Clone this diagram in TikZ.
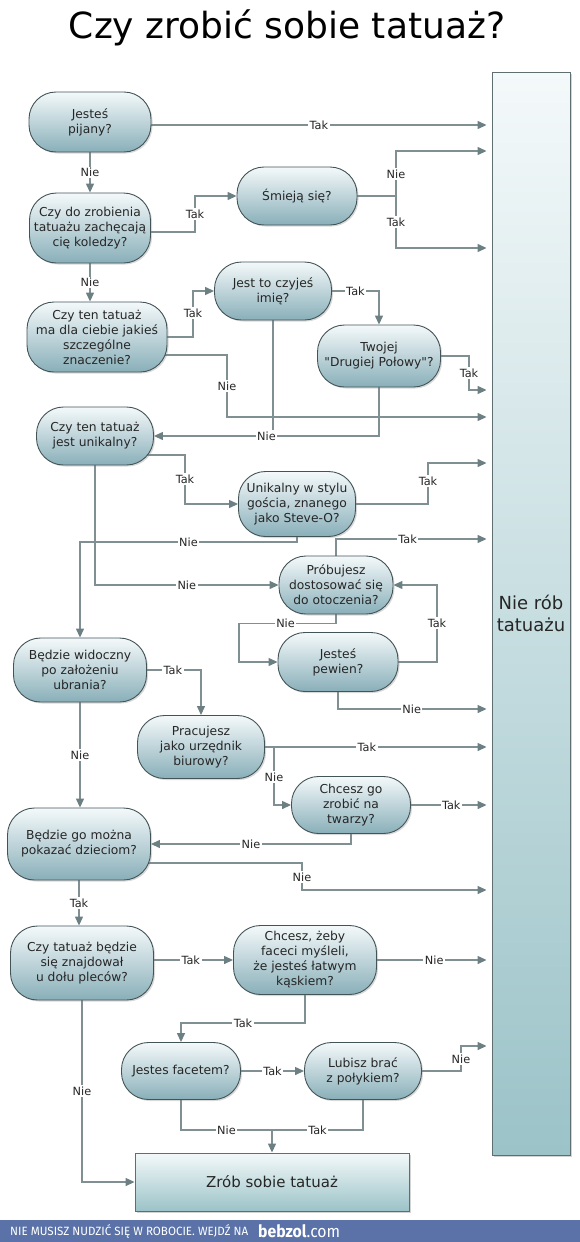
\documentclass[tikz,border=0pt]{standalone}
\usepackage{graphicx}
\usepackage{fontspec}
\setmainfont{DejaVu Sans}
\newfontfamily\footfont{Fira Sans}
\usetikzlibrary{arrows.meta, shadows}
\definecolor{qtop}{HTML}{F4F9FA}
\definecolor{qbot}{HTML}{89AFB9}
\definecolor{qedge}{HTML}{435457}
\definecolor{lineg}{HTML}{7F8F92}
\definecolor{tipg}{HTML}{6C7F83}
\definecolor{endbot}{HTML}{9BC3C8}
\definecolor{footblue}{HTML}{5A72A8}
\pgfdeclarelayer{background}
\pgfsetlayers{background,main}

\begin{document}
\begin{tikzpicture}[
    x=1pt, y=-1pt,
    every node/.style={align=center},
    block_q/.style={
        rectangle,
        draw=qedge,
        line width=0.9pt,
        top color=qtop,
        bottom color=qbot,
        rounded corners=27pt,
        inner sep=1pt,
        text=black!85,
        font=\fontsize{12.3}{15}\selectfont,
        drop shadow={shadow xshift=1.5pt, shadow yshift=-1.5pt, opacity=0.3}
    },
    block_end/.style={
        rectangle,
        draw=qedge!85,
        line width=0.9pt,
        top color=qtop,
        bottom color=endbot,
        text=black!85,
        drop shadow={shadow xshift=2pt, shadow yshift=-2pt, opacity=0.35}
    },
    plain_line/.style={draw=lineg, line width=1.3pt},
    arrow/.style={plain_line, -{Triangle[length=9pt, width=8pt, color=tipg]}},
    arrow_box/.style={arrow, shorten >=5pt},
    yn/.style={fill=white, inner sep=1.5pt, text=black!85, font=\fontsize{11.3}{13}\selectfont}
]
    \useasboundingbox (0,0) rectangle (580,1242);
    % 标题
    \node[anchor=base, font=\fontsize{36}{40}\selectfont] (title) at (287,38) {Czy zrobić sobie tatuaż?};

    % 判断节点
    \node[block_q, minimum width=122pt, minimum height=60pt] (drunk) at (90,122) {Jesteś\\pijany?};
    \node[block_q, minimum width=121pt, minimum height=70pt] (friends) at (90,228) {Czy do zrobienia\\tatuażu zachęcają\\cię koledzy?};
    \node[block_q, minimum width=120pt, minimum height=58pt] (laugh) at (297,196) {Śmieją się?};
    \node[block_q, minimum width=140pt, minimum height=70pt] (meaning) at (97,337) {Czy ten tatuaż\\ma dla ciebie jakieś\\szczególne\\znaczenie?};
    \node[block_q, minimum width=117pt, minimum height=58pt] (name) at (273,291) {Jest to czyjeś\\imię?};
    \node[block_q, minimum width=123pt, minimum height=62pt] (partner) at (379,356) {Twojej\\\textquotedbl Drugiej Połowy\textquotedbl?};
    \node[block_q, minimum width=117pt, minimum height=58pt] (unique) at (95,436) {Czy ten tatuaż\\jest unikalny?};
    \node[block_q, minimum width=117pt, minimum height=65pt] (steveo) at (297,504) {Unikalny w stylu\\gościa, znanego\\jako Steve-O?};
    \node[block_q, minimum width=114pt, minimum height=58pt] (fitin) at (336,585) {Próbujesz\\dostosować się\\do otoczenia?};
    \node[block_q, minimum width=120pt, minimum height=59pt] (sure) at (338,662) {Jesteś\\pewien?};
    \node[block_q, minimum width=133pt, minimum height=64pt] (visible) at (80,670) {Będzie widoczny\\po założeniu\\ubrania?};
    \node[block_q, minimum width=127pt, minimum height=63pt] (office) at (201,747) {Pracujesz\\jako urzędnik\\biurowy?};
    \node[block_q, minimum width=119pt, minimum height=57pt] (face) at (351,805) {Chcesz go\\zrobić na\\twarzy?};
    \node[block_q, minimum width=143pt, minimum height=72pt] (kids) at (79,844) {Będzie go można\\pokazać dzieciom?};
    \node[block_q, minimum width=143pt, minimum height=74pt] (back) at (82,963) {Czy tatuaż będzie\\się znajdował\\u dołu pleców?};
    \node[block_q, minimum width=143pt, minimum height=69pt] (easy) at (305,960) {Chcesz, żeby\\faceci myśleli,\\że jesteś łatwym\\kąskiem?};
    \node[block_q, minimum width=119pt, minimum height=57pt] (guy) at (181,1071) {Jestes facetem?};
    \node[block_q, minimum width=117pt, minimum height=57pt] (swallow) at (363,1071) {Lubisz brać\\z połykiem?};

    % 结果
    \node[block_end, minimum width=78pt, minimum height=1083pt, font=\fontsize{18}{22}\selectfont] (nobox) at (531,613.5) {Nie rób\\tatuażu};
    \node[block_end, minimum width=274pt, minimum height=58pt, font=\fontsize{15}{18}\selectfont] (yesbox) at (272,1182) {Zrób sobie tatuaż};

    % 连线
    \begin{pgfonlayer}{background}
    \draw[arrow_box] (drunk.center |- 0,125) -- node[yn, pos=0.57]{Tak} (nobox.west |- 0,125);
    \draw[arrow] (drunk.south) -- node[yn]{Nie} (drunk.south |- friends.north);
    \draw[arrow] (friends.center |- 0,232) -| (195,214) node[yn]{Tak} |- (laugh.west);
    \draw[arrow_box] (laugh.east) -| (396,174) node[yn]{Nie} |- (nobox.west |- 0,151);
    \draw[arrow_box] (laugh.east) -| (396,222) node[yn]{Tak} |- (nobox.west |- 0,248);

    \draw[arrow] (friends.south) -- node[yn]{Nie} (friends.south |- meaning.north);
    \draw[arrow] (meaning.center |- 0,337) -| (193,313) node[yn]{Tak} |- (name.west);
    \draw[arrow_box] (meaning.center |- 0,355) -| (227,386) node[yn]{Nie} |- (nobox.west |- 0,417);
    \draw[arrow] (name.east) -| node[yn, pos=0.25]{Tak} (partner.north);
    \draw[arrow_box] (partner.east) -| (469,373) node[yn]{Tak} |- (nobox.west |- 0,390);
    \draw[plain_line] (name.south) -- (name.south |- unique.east);
    \draw[arrow] (partner.south) |- node[yn, pos=0.75]{Nie} (unique.east);

    \draw[arrow] (unique.center |- 0,455) -| (185,479) node[yn]{Tak} |- (steveo.west);
    \draw[arrow_box] (steveo.east) -| (428,481) node[yn]{Tak} |- (nobox.west |- 0,463);
    \draw[arrow] (steveo.south) -- ++(0,5) -| node[yn, pos=0.25]{Nie} (visible.north);
    \draw[arrow] (unique.south) |- node[yn, pos=0.75]{Nie} (fitin.west);
    \draw[arrow_box] (fitin.north) |- node[yn, pos=0.73]{Tak} (nobox.west |- 0,539);
    \draw[arrow] (fitin.south) -- ++(0,9) -| node[yn, pos=0.26]{Nie} (239,640) |- (sure.west);
    \draw[arrow] (sure.east) -| (437,623) node[yn]{Tak} |- (fitin.east);
    \draw[arrow_box] (sure.south) |- node[yn, pos=0.74]{Nie} (nobox.west |- 0,709);

    \draw[arrow] (visible.east) -| node[yn, pos=0.24]{Tak} (office.north);
    \draw[arrow_box] (office.east) -- node[yn, pos=0.45]{Tak} (nobox.west |- office.east);
    \draw[arrow] (office.east) -| (274,777) node[yn]{Nie} |- (face.west);
    \draw[arrow_box] (face.east) -- node[yn]{Tak} (nobox.west |- face.east);
    \draw[arrow] (visible.south) -- node[yn]{Nie} (visible.south |- kids.north);
    \draw[arrow] (face.south) |- node[yn, pos=0.75]{Nie} (kids.east);
    \draw[arrow_box] (kids.center |- 0,863) -| (302,877) node[yn]{Nie} |- (nobox.west |- 0,890);

    \draw[arrow] (kids.south) -- node[yn]{Tak} (kids.south |- back.north);
    \draw[arrow] (back.center |- easy.west) -- node[yn, pos=0.72]{Tak} (easy.west);
    \draw[arrow_box] (easy.east) -- node[yn]{Nie} (nobox.west |- easy.east);
    \draw[arrow] (easy.south) -- ++(0,28) -| node[yn, pos=0.25]{Tak} (guy.north);
    \draw[arrow] (back.south) |- node[yn, pos=0.25]{Nie} (yesbox.west);
    \draw[arrow] (guy.east) -- node[yn]{Tak} (swallow.west);
    \draw[arrow_box] (swallow.east) -| (461,1059) node[yn]{Nie} |- (nobox.west |- 0,1046);
    \coordinate (merge) at (272,1130);
    \draw[plain_line] (guy.south) |- node[yn, pos=0.75]{Nie} (merge);
    \draw[plain_line] (swallow.south) |- node[yn, pos=0.75]{Tak} (merge);
    \draw[arrow] (merge) -- (yesbox.north);
    \end{pgfonlayer}

    % 页脚
    \fill[footblue] (0,1220) rectangle (580,1242);
    \node[anchor=base west, text=white, inner sep=0pt] (foottext) at (10,1235)
        {\footfont\fontsize{12}{14}\selectfont\resizebox{238pt}{\height}{NIE MUSISZ NUDZIĆ SIĘ W ROBOCIE. WEJDŹ NA}};
    \node[anchor=base west, text=white, inner sep=0pt] (site) at (258,1237)
        {\footfont\fontsize{17}{20}\selectfont\resizebox{82pt}{\height}{\textbf{bebzol}.com}};
\end{tikzpicture}
\end{document}
